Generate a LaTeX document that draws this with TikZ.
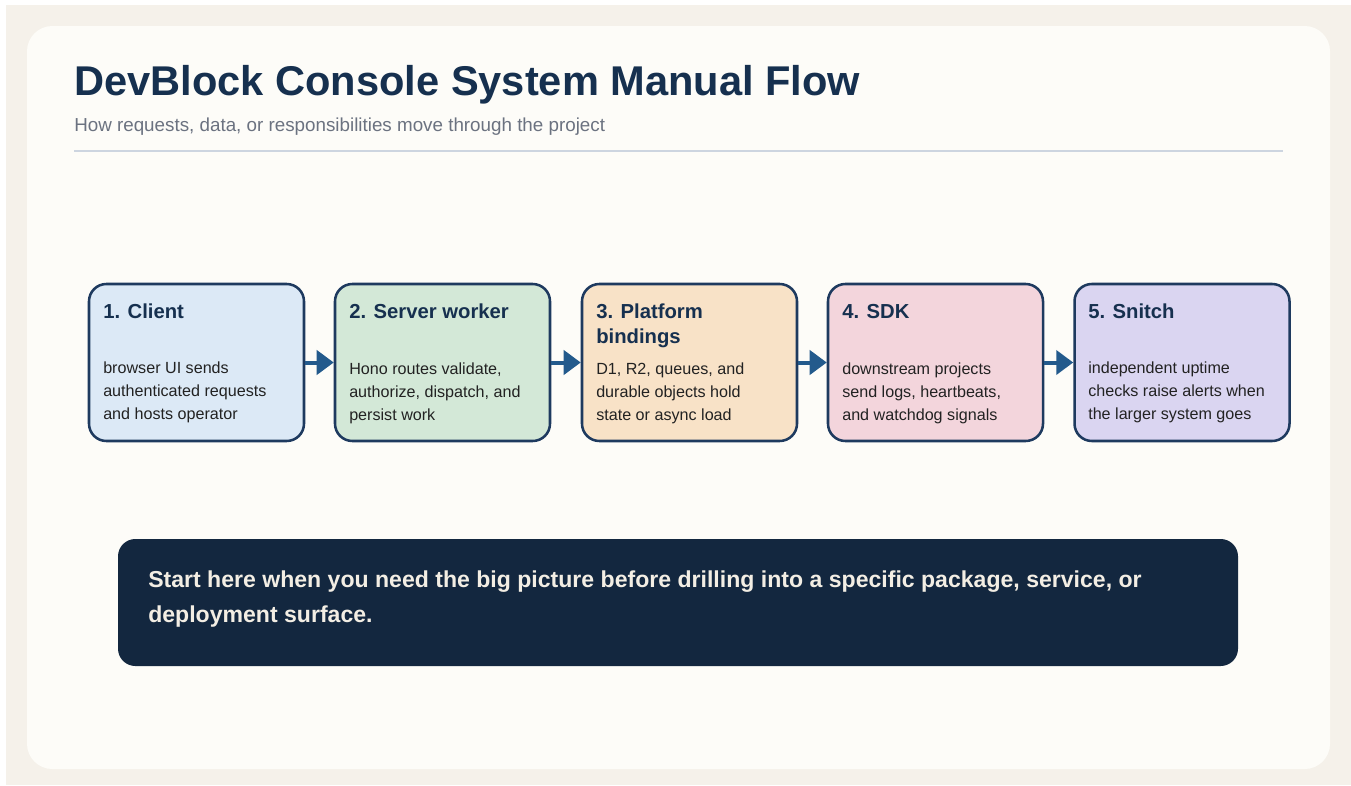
\documentclass[tikz,border=0pt]{standalone}
\usepackage{fontspec}
\setmainfont{Liberation Sans}
\usepackage{tikz}
\usetikzlibrary{arrows.meta}

\definecolor{pagebg}{HTML}{F5F1EA}
\definecolor{cardbg}{HTML}{FDFCF8}
\definecolor{navy}{HTML}{16304F}
\definecolor{edge}{HTML}{1E3A5F}
\definecolor{flowblue}{HTML}{235A8C}
\definecolor{rulegray}{HTML}{CDD5E0}
\definecolor{subgray}{HTML}{6B7280}
\definecolor{bodytext}{HTML}{222222}
\definecolor{bannerbg}{HTML}{13273F}
\definecolor{bannertext}{HTML}{F3EEE4}
\definecolor{fillA}{HTML}{DCE9F6}
\definecolor{fillB}{HTML}{D3E8D7}
\definecolor{fillC}{HTML}{F8E2C7}
\definecolor{fillD}{HTML}{F3D5DC}
\definecolor{fillE}{HTML}{DAD5F1}

\tikzset{
  stagebox/.style={draw=edge, line width=1.9pt, rounded corners=13pt,
    minimum width=161.25pt, minimum height=117.75pt, inner sep=0pt},
  stagetitle/.style={anchor=base west, inner sep=0pt, align=left, text=navy,
    font=\fontsize{15.2pt}{18.75pt}\selectfont\bfseries},
  stagebody/.style={anchor=base west, inner sep=0pt, align=left, text=bodytext,
    font=\fontsize{12.1pt}{17pt}\selectfont},
  flowarrow/.style={draw=flowblue, line width=3pt,
    -{Triangle[length=12.75pt,width=18pt]}},
}

\begin{document}
\begin{tikzpicture}[x=0.75pt,y=-0.75pt]
\useasboundingbox (0,0) rectangle (1351,785);
\fill[white] (0,0) rectangle (1351,785);
\fill[pagebg] (6,5) rectangle (1351,785);
\fill[cardbg, rounded corners=19pt] (27,26) rectangle (1330,769);

% header
\node[anchor=base west, inner sep=0pt, text=navy,
  font=\fontsize{31.2pt}{36pt}\selectfont\bfseries] (title) at (74,95)
  {DevBlock Console System Manual Flow};
\node[anchor=base west, inner sep=0pt, text=subgray,
  font=\fontsize{14.1pt}{17pt}\selectfont] (subtitle) at (74,131)
  {How requests, data, or responsibilities move through the project};
\draw[rulegray, line width=2.2pt] (74,151) -- (1283,151);

% stages
\node[stagebox, fill=fillA] (client) at (196.5,362.5) {};
\node[stagebox, fill=fillB] (server) at (442.5,362.5) {};
\node[stagebox, fill=fillC] (bindings) at (689.5,362.5) {};
\node[stagebox, fill=fillD] (sdk) at (935.5,362.5) {};
\node[stagebox, fill=fillE] (snitch) at (1182,362.5) {};

% titles: base = last line
\node[stagetitle] (clientT) at (103,318) {1. Client};
\node[stagetitle] (serverT) at (349,318) {2. Server worker};
\node[stagetitle] (bindingsT) at (596,343) {3. Platform\\bindings};
\node[stagetitle] (sdkT) at (842,318) {4. SDK};
\node[stagetitle] (snitchT) at (1088,318) {5. Snitch};

\node[stagebody] (clientB) at (103,419)
  {browser UI sends\\authenticated requests\\and hosts operator};
\node[stagebody] (serverB) at (349,420)
  {Hono routes validate,\\authorize, dispatch, and\\persist work};
\node[stagebody] (bindingsB) at (596,420)
  {D1, R2, queues, and\\durable objects hold\\state or async load};
\node[stagebody] (sdkB) at (842,420)
  {downstream projects\\send logs, heartbeats,\\and watchdog signals};
\node[stagebody] (snitchB) at (1088,419)
  {independent uptime\\checks raise alerts when\\the larger system goes};

\foreach \a/\b in {client/server, server/bindings, bindings/sdk, sdk/snitch}
  \draw[flowarrow] (\a.east) -- (\b.west);

% banner
\node[fill=bannerbg, rounded corners=13pt, minimum width=840pt,
  minimum height=95.25pt, inner sep=0pt] (banner) at (678,602.5) {};
\node[anchor=base west, inner sep=0pt, align=left, text=bannertext,
  font=\fontsize{17.3pt}{26.25pt}\selectfont\bfseries] (bannerT) at (148,622)
  {Start here when you need the big picture before drilling into a specific package, service, or\\deployment surface.};
\end{tikzpicture}
\end{document}
